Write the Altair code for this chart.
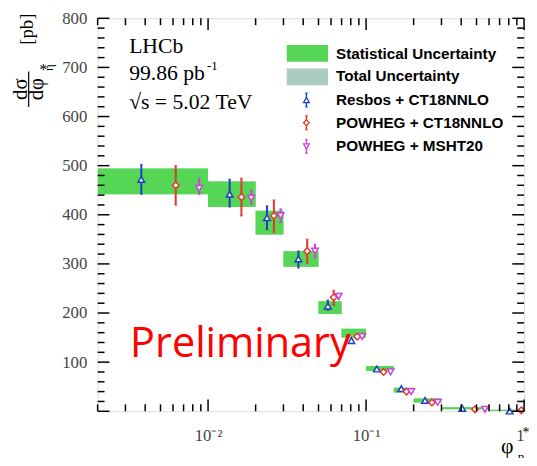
import altair as alt
import pandas as pd

# ---------------- data ----------------
XMIN, XMAX = 0.002, 1.0
bin_lo = [0.0, 0.01, 0.02, 0.03, 0.05, 0.07, 0.10, 0.15, 0.20, 0.30, 0.60]
bin_hi = [0.01, 0.02, 0.03, 0.05, 0.07, 0.10, 0.15, 0.20, 0.30, 0.60, 1.00]
data_val = [468, 442, 384, 310, 211, 159, 87, 43, 22, 6, 2]
stat_err = [26, 26, 24, 16, 13, 9, 5, 5, 4, 2, 1]
tot_err = [26, 26, 24, 16, 13, 9, 5, 5, 4, 2, 1]

resbos_x = [0.00378, 0.0137, 0.0236, 0.0373, 0.0573, 0.0807, 0.117, 0.167, 0.236, 0.406, 0.81]
resbos_y = [472, 442, 394, 310, 214, 144, 86, 46, 22, 6, 0.5]
resbos_lo = [442, 416, 370, 292, 206, 140, 83, 44, 21, 5, 0]
resbos_hi = [502, 472, 418, 326, 226, 148, 89, 48, 23, 7, 1.5]

powct_x = [0.00624, 0.01626, 0.0261, 0.0424, 0.0624, 0.0879, 0.129, 0.180, 0.261, 0.489, 0.96]
powct_y = [460, 436, 398, 326, 232, 152, 80, 40, 18, 4, 2]
powct_lo = [420, 398, 364, 302, 216, 147, 77, 38, 17, 3, 0]
powct_hi = [500, 474, 430, 350, 246, 157, 83, 42, 19, 5, 6]

powms_x = [0.00879, 0.01876, 0.0288, 0.0475, 0.067, 0.0944, 0.143, 0.193, 0.284, 0.565]
powms_y = [454, 434, 398, 326, 234, 152, 80, 40, 18, 4]
powms_lo = [442, 422, 384, 312, 228, 149, 78, 39, 17, 3]
powms_hi = [474, 450, 412, 340, 240, 155, 82, 41, 19, 5]

y_major = [0, 100, 200, 300, 400, 500, 600, 700, 800]
y_minor = [v for v in range(0, 801, 20) if v % 100]
x_major = [0.01, 0.1, 1.0]
x_minor = [m * 10.0 ** e for e in (-3, -2, -1) for m in range(2, 10)]
x_minor = [v for v in x_minor if XMIN <= v <= XMAX]
y_labels = [100, 200, 300, 400, 500, 600, 700, 800]

legend_labels = ["Statistical Uncertainty", "Total Uncertainty", "Resbos + CT18NNLO",
                 "POWHEG + CT18NNLO", "POWHEG + MSHT20"]

# ---------------- styling ----------------
W, H = 433, 399
GREEN = "#55d655"
TEAL = "#a9cbc0"
BLUE = "#1f3fc4"
RED = "#e8352a"
MAG = "#cc44dd"
SERIF = "Liberation Serif"
SANS = "Liberation Sans"

xs = alt.Scale(type="log", domain=[XMIN, XMAX])
ys = alt.Scale(domain=[0, 800], nice=False, zero=False)

bins = pd.DataFrame({
    "lo": [max(v, XMIN) for v in bin_lo],
    "hi": bin_hi,
    "s_lo": [v - e for v, e in zip(data_val, stat_err)],
    "s_hi": [v + e for v, e in zip(data_val, stat_err)],
    "t_lo": [v - e for v, e in zip(data_val, tot_err)],
    "t_hi": [v + e for v, e in zip(data_val, tot_err)],
})

xaxis = alt.Axis(values=x_major, ticks=False, domain=False, grid=False, title=None,
                 labelExpr="datum.value < 0.05 ? '10⁻²' : (datum.value < 0.5 ? '10⁻¹' : '1')",
                 labelFont=SERIF, labelFontSize=17, labelColor="#444", labelPadding=17,
                 labelFlush=True)
yaxis = alt.Axis(values=y_labels, ticks=False, domain=False, grid=False, title=None,
                 labelFont=SERIF, labelFontSize=17, labelColor="#444", labelPadding=11)

total_rect = alt.Chart(bins).mark_rect(color=TEAL, clip=True).encode(
    x=alt.X("lo:Q", scale=xs, axis=xaxis), x2="hi:Q",
    y=alt.Y("t_lo:Q", scale=ys, axis=yaxis), y2="t_hi:Q")
stat_rect = alt.Chart(bins).mark_rect(color=GREEN, clip=True).encode(
    x=alt.X("lo:Q", scale=xs), x2="hi:Q",
    y=alt.Y("s_lo:Q", scale=ys), y2="s_hi:Q")

CAP = "M-0.5,0H0.5"


def model_layers(xv, yv, lo, hi, color, shape):
    df = pd.DataFrame({"x": xv, "y": yv, "lo": lo, "hi": hi})
    base = alt.Chart(df)
    bar = base.mark_rule(color=color, strokeWidth=2).encode(
        x=alt.X("x:Q", scale=xs), y=alt.Y("lo:Q", scale=ys), y2="hi:Q")
    cap_lo = base.mark_point(shape=CAP, size=30, color=color, strokeWidth=1.5).encode(
        x=alt.X("x:Q", scale=xs), y=alt.Y("lo:Q", scale=ys))
    cap_hi = base.mark_point(shape=CAP, size=30, color=color, strokeWidth=1.5).encode(
        x=alt.X("x:Q", scale=xs), y=alt.Y("hi:Q", scale=ys))
    pt = base.mark_point(shape=shape, size=45, filled=True, fill="white", color=color,
                         stroke=color, strokeWidth=1.5, opacity=1).encode(
        x=alt.X("x:Q", scale=xs), y=alt.Y("y:Q", scale=ys))
    return [bar, cap_lo, cap_hi, pt]


models = (model_layers(resbos_x, resbos_y, resbos_lo, resbos_hi, BLUE, "triangle-up")
          + model_layers(powct_x, powct_y, powct_lo, powct_hi, RED, "diamond")
          + model_layers(powms_x, powms_y, powms_lo, powms_hi, MAG, "triangle-down"))


# ---------------- inward ticks ----------------
def xticks(vals, length):
    df = pd.DataFrame({"v": vals})
    b = alt.Chart(df).mark_rule(color="black", strokeWidth=1.5).encode(
        x=alt.X("v:Q", scale=xs), y=alt.value(H), y2=alt.value(H - length))
    t = alt.Chart(df).mark_rule(color="black", strokeWidth=1.5).encode(
        x=alt.X("v:Q", scale=xs), y=alt.value(0), y2=alt.value(length))
    return [b, t]


def yticks(vals, length):
    df = pd.DataFrame({"v": vals})
    l = alt.Chart(df).mark_rule(color="black", strokeWidth=1.5).encode(
        y=alt.Y("v:Q", scale=ys), x=alt.value(0), x2=alt.value(length))
    r = alt.Chart(df).mark_rule(color="black", strokeWidth=1.5).encode(
        y=alt.Y("v:Q", scale=ys), x=alt.value(W), x2=alt.value(W - length))
    return [l, r]


ticks = xticks(x_major, 12) + xticks(x_minor, 7) + yticks(y_major, 12) + yticks(y_minor, 7)


# ---------------- texts ----------------
def text(s, x, y, size, font=SERIF, color="black", weight="normal", angle=0,
         align="left", baseline="alphabetic"):
    return alt.Chart(pd.DataFrame({"t": [s]})).mark_text(
        font=font, fontSize=size, color=color, fontWeight=weight, angle=angle,
        align=align, baseline=baseline).encode(
        text="t:N", x=alt.value(x), y=alt.value(y))


texts = [
    text("LHCb", 32, 35, 22),
    text("99.86 pb", 32, 63, 22),
    text("-1", 111, 52, 13),
    text("√s = 5.02 TeV", 32, 92, 22),
    text("Preliminary", 33, 344, 42, font="Open Sans", color="#ff0000"),
    # y-axis title (rotated fraction)
    text("[pb]", -72, 11, 19, angle=270, align="center", baseline="middle"),
    text("dσ", -78, 72, 21, angle=270, align="center", baseline="middle"),
    text("dφ", -61, 72, 21, angle=270, align="center", baseline="middle"),
    text("*", -55, 53, 16, angle=0, align="center", baseline="middle"),
    text("η", -49, 50, 13, angle=270, align="center", baseline="middle"),
    # x-axis title
    text("φ", 416, 434, 22, align="center", baseline="middle"),
    text("*", 435, 421, 14, align="center", baseline="middle"),
    text("η", 430, 446, 13, align="center", baseline="middle"),
]
frac = alt.Chart(pd.DataFrame({"a": [0]})).mark_rule(color="black", strokeWidth=1.2).encode(
    x=alt.value(-70), y=alt.value(54), y2=alt.value(90))

# ---------------- legend ----------------
legend = [
    alt.Chart(pd.DataFrame({"a": [0]})).mark_rect(color=GREEN).encode(
        x=alt.value(192), x2=alt.value(234), y=alt.value(27), y2=alt.value(44)),
    alt.Chart(pd.DataFrame({"a": [0]})).mark_rect(color=TEAL).encode(
        x=alt.value(192), x2=alt.value(234), y=alt.value(51), y2=alt.value(68)),
]
rows_y = [36, 59, 83, 106, 130]
for lab, yy in zip(legend_labels, rows_y):
    legend.append(text(lab, 242, yy, 15.5, font=SANS, weight="bold", baseline="middle"))
for (color, shape), yy in zip([(BLUE, "triangle-up"), (RED, "diamond"), (MAG, "triangle-down")],
                              rows_y[2:]):
    one = alt.Chart(pd.DataFrame({"a": [0]}))
    legend.append(one.mark_rule(color=color, strokeWidth=1.5).encode(
        x=alt.value(212), y=alt.value(yy - 7), y2=alt.value(yy + 7)))
    for cy in (yy - 7, yy + 7):
        legend.append(one.mark_point(shape=CAP, size=30, color=color, strokeWidth=1.5).encode(
            x=alt.value(212), y=alt.value(cy)))
    legend.append(one.mark_point(shape=shape, size=35, filled=True, fill="white", color=color,
                                 stroke=color, strokeWidth=1.3, opacity=1).encode(
        x=alt.value(212), y=alt.value(yy)))

chart = alt.layer(total_rect, stat_rect, *models, *ticks, *texts, frac, *legend).properties(
    width=W, height=H,
    autosize=alt.AutoSizeParams(type="none"),
    padding={"left": 91, "top": 7, "right": 5, "bottom": 44},
).configure_view(stroke="black", strokeWidth=1.5).configure(background="white")

chart.save("out.html", embed_options={"renderer": "svg", "actions": False})
